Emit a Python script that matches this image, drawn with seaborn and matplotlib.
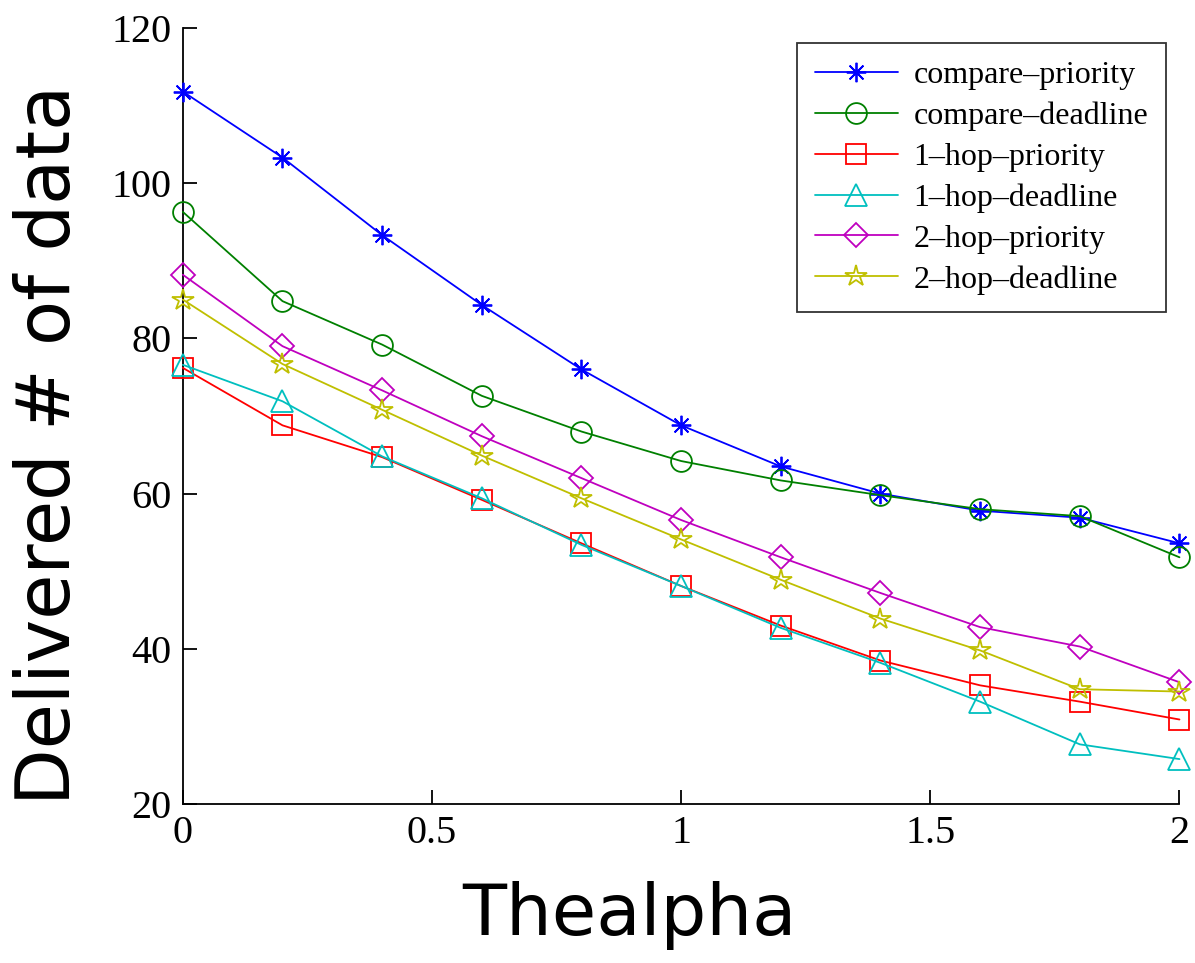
import numpy as np
import pandas as pd
import matplotlib
matplotlib.use("Agg")
import matplotlib.pyplot as plt
import seaborn as sns

alpha = [0, 0.2, 0.4, 0.6, 0.8, 1.0, 1.2, 1.4, 1.6, 1.8, 2.0]
compare_priority = [111.8, 103.3, 93.3, 84.3, 76.0, 68.8, 63.5, 60.0, 57.8, 56.9, 53.6]
compare_deadline = [96.3, 84.8, 79.2, 72.6, 68.0, 64.2, 61.7, 59.8, 58.0, 57.1, 51.8]
one_hop_priority = [76.2, 68.8, 64.7, 59.2, 53.6, 48.1, 43.0, 38.5, 35.3, 33.2, 30.9]
one_hop_deadline = [76.6, 71.9, 64.8, 59.4, 53.4, 48.1, 42.7, 38.2, 33.2, 27.7, 25.8]
two_hop_priority = [88.2, 79.0, 73.3, 67.4, 62.0, 56.6, 51.8, 47.2, 42.8, 40.3, 35.7]
two_hop_deadline = [85.0, 76.7, 70.8, 64.9, 59.4, 54.1, 48.9, 43.9, 39.8, 34.8, 34.5]

names = ["compare\u2013priority", "compare\u2013deadline", "1\u2013hop\u2013priority",
         "1\u2013hop\u2013deadline", "2\u2013hop\u2013priority", "2\u2013hop\u2013deadline"]
series = [compare_priority, compare_deadline, one_hop_priority,
          one_hop_deadline, two_hop_priority, two_hop_deadline]
colors = ["#0000ff", "#008000", "#ff0000", "#00bfbf", "#bf00bf", "#bfbf00"]
markers = [(8, 2, 0), "o", "s", "^", "D", "*"]
msizes = [14, 15, 14, 16, 12, 16]

sns.set_theme(style="white")
plt.rcParams["font.family"] = ["Liberation Serif", "DejaVu Serif"]
plt.rcParams["text.color"] = "black"
plt.rcParams["axes.labelcolor"] = "black"

fig = plt.figure(figsize=(11.95, 9.63), dpi=100)
ax = fig.add_axes([0.153, 0.165, 0.834, 0.806])

for name, vals, c, m, ms in zip(names, series, colors, markers, msizes):
    df = pd.DataFrame({"x": alpha, "y": vals})
    sns.lineplot(data=df, x="x", y="y", ax=ax, color=c, marker=m, markersize=ms,
                 markerfacecolor="none", markeredgecolor=c, markeredgewidth=1.3,
                 linewidth=1.3, label=name, clip_on=False, zorder=3)

ax.set_xlim(0, 2)
ax.set_ylim(20, 120)
ax.set_xticks([0, 0.5, 1, 1.5, 2])
ax.set_xticklabels(["0", "0.5", "1", "1.5", "2"])
ax.set_yticks([20, 40, 60, 80, 100, 120])
ax.tick_params(direction="in", length=10, width=1.3, labelsize=29, colors="black",
               left=True, bottom=True, pad=8)
for s in ["top", "right"]:
    ax.spines[s].set_visible(False)
for s in ["left", "bottom"]:
    ax.spines[s].set_color("black")
    ax.spines[s].set_linewidth(1.3)

ax.set_xlabel("Thealpha", fontsize=52, family=["DejaVu Sans"], color="black")
ax.set_ylabel("Delivered # of data", fontsize=53, family=["DejaVu Sans"], color="black")
ax.xaxis.set_label_coords((630 - 183) / 997, -(915 - 804) / 776, transform=ax.transAxes)
ax.yaxis.set_label_coords(-(183 - 50) / 997, (804 - 445) / 776, transform=ax.transAxes)
ax.xaxis.label.set_va("center")
ax.yaxis.label.set_va("center")

leg = ax.legend(loc="upper right", bbox_to_anchor=(1166 / 1195, 1 - 43 / 963),
                bbox_transform=fig.transFigure, fontsize=23, frameon=True,
                fancybox=False, edgecolor="black", handlelength=2.6,
                borderpad=0.55, labelspacing=0.36, handletextpad=0.5,
                borderaxespad=0)
leg.get_frame().set_linewidth(1.3)
for t in leg.get_texts():
    t.set_color("black")

fig.savefig("out.png", dpi=100)
